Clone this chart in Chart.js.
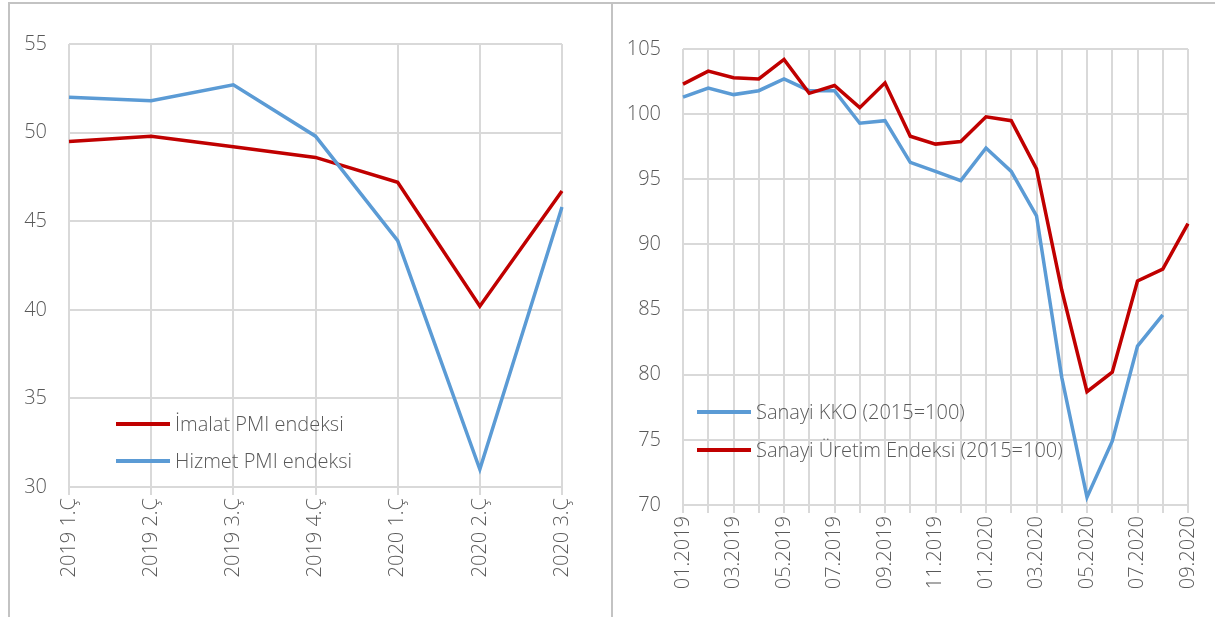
<!DOCTYPE html>
<html>
<head>
<meta charset="utf-8">
<script src="https://cdn.jsdelivr.net/npm/chart.js@4.4.0/dist/chart.umd.min.js"></script>
<style>
	body { margin: 0; background: #ffffff; }
	#frame {
		position: absolute; left: 8px; top: 2px; width: 1220px; height: 630px;
		border-top: 2px solid #c3c3c3; border-left: 2px solid #c3c3c3;
	}
	#divider { position: absolute; left: 611px; top: 2px; width: 2px; height: 630px; background: #c3c3c3; }
	#pmi { position: absolute; left: 10px; top: 4px; }
	#sanayi { position: absolute; left: 613px; top: 4px; }
</style>
</head>
<body>
<div id="frame"></div>
<div id="divider"></div>
<canvas id="pmi" width="601" height="613"></canvas>
<canvas id="sanayi" width="602" height="613"></canvas>
<script>
Chart.defaults.font.family = "'Open Sans', 'Noto Sans', sans-serif";
Chart.defaults.font.size = 20;
Chart.defaults.font.weight = 300;
Chart.defaults.color = '#595959';

// Sol grafik: PMI endeksleri
const quarters = ['2019 1.Ç', '2019 2.Ç', '2019 3.Ç', '2019 4.Ç', '2020 1.Ç', '2020 2.Ç', '2020 3.Ç'];
const imalatPmi = [49.5, 49.8, 49.2, 48.6, 47.2, 40.2, 46.7];
const hizmetPmi = [52.0, 51.8, 52.7, 49.8, 43.9, 31.0, 45.8];

// Sag grafik: sanayi
const months = ['01.2019', '02.2019', '03.2019', '04.2019', '05.2019', '06.2019', '07.2019', '08.2019', '09.2019', '10.2019', '11.2019', '12.2019',
	'01.2020', '02.2020', '03.2020', '04.2020', '05.2020', '06.2020', '07.2020', '08.2020', '09.2020'];
const sanayiKko = [101.3, 102.0, 101.5, 101.8, 102.7, 101.8, 101.8, 99.3, 99.5, 96.3, 95.6, 94.9,
	97.4, 95.6, 92.2, 79.8, 70.6, 74.9, 82.2, 84.6, null];
const sanayiUretim = [102.3, 103.3, 102.8, 102.7, 104.2, 101.6, 102.2, 100.5, 102.4, 98.3, 97.7, 97.9,
	99.8, 99.5, 95.8, 86.5, 78.7, 80.2, 87.2, 88.1, 91.6];

const RED = '#c00000';
const BLUE = '#5b9bd5';

// legend drawn inside the plot area, like the excel original
const innerLegend = {
	id: 'innerLegend',
	afterDraw(chart, args, opts) {
		const ctx = chart.ctx;
		ctx.save();
		ctx.font = "300 20px 'Open Sans', 'Noto Sans', sans-serif";
		ctx.textBaseline = 'middle';
		chart.data.datasets.forEach((ds, i) => {
			const y = opts.y + i * opts.gap;
			ctx.strokeStyle = ds.borderColor;
			ctx.lineWidth = 4;
			ctx.beginPath();
			ctx.moveTo(opts.x, y);
			ctx.lineTo(opts.x + 54, y);
			ctx.stroke();
			ctx.fillStyle = '#595959';
			ctx.fillText(ds.label, opts.x + 59, y + 1);
		});
		ctx.restore();
	}
};

function xAxis(height, labelCb) {
	return {
		offset: false,
		grid: { color: '#d9d9d9', lineWidth: 2, tickLength: 8, tickColor: '#d9d9d9' },
		border: { color: '#d9d9d9', width: 2 },
		ticks: {
			autoSkip: false, minRotation: 90, maxRotation: 90, padding: 3,
			callback: labelCb
		},
		afterFit(scale) { scale.height = height; }
	};
}

function yAxis(width, min, max) {
	return {
		min: min, max: max,
		grid: { color: '#d9d9d9', lineWidth: 2, drawTicks: false },
		border: { display: false },
		ticks: { stepSize: 5, padding: 22 },
		afterFit(scale) { scale.width = width; }
	};
}

new Chart(
	document.getElementById('pmi'),
	{
		type: 'line',
		data: {
			labels: quarters,
			datasets: [
				{ label: 'İmalat PMI endeksi', data: imalatPmi, borderColor: RED, borderWidth: 3.5, pointRadius: 0, order: 1 },
				{ label: 'Hizmet PMI endeksi', data: hizmetPmi, borderColor: BLUE, borderWidth: 3.5, pointRadius: 0, order: 0 }
			]
		},
		options: {
			responsive: false,
			animation: false,
			layout: { padding: { top: 40, right: 49, left: 0, bottom: 0 } },
			plugins: {
				legend: { display: false },
				tooltip: { enabled: false },
				innerLegend: { x: 106, y: 420, gap: 37 }
			},
			scales: {
				x: xAxis(130, function (v, i) { return this.getLabelForValue(v); }),
				y: yAxis(59, 30, 55)
			}
		},
		plugins: [innerLegend]
	}
);

new Chart(
	document.getElementById('sanayi'),
	{
		type: 'line',
		data: {
			labels: months,
			datasets: [
				{ label: 'Sanayi KKO (2015=100)', data: sanayiKko, borderColor: BLUE, borderWidth: 3.5, pointRadius: 0, order: 1 },
				{ label: 'Sanayi Üretim Endeksi (2015=100)', data: sanayiUretim, borderColor: RED, borderWidth: 3.5, pointRadius: 0, order: 0 }
			]
		},
		options: {
			responsive: false,
			animation: false,
			layout: { padding: { top: 45, right: 27, left: 0, bottom: 0 } },
			plugins: {
				legend: { display: false },
				tooltip: { enabled: false },
				innerLegend: { x: 84, y: 408, gap: 38 }
			},
			scales: {
				// only every second month gets a label
				x: xAxis(112, function (v, i) { return i % 2 == 0 ? this.getLabelForValue(v) : ''; }),
				y: yAxis(70, 70, 105)
			}
		},
		plugins: [innerLegend]
	}
);
</script>
</body>
</html>
